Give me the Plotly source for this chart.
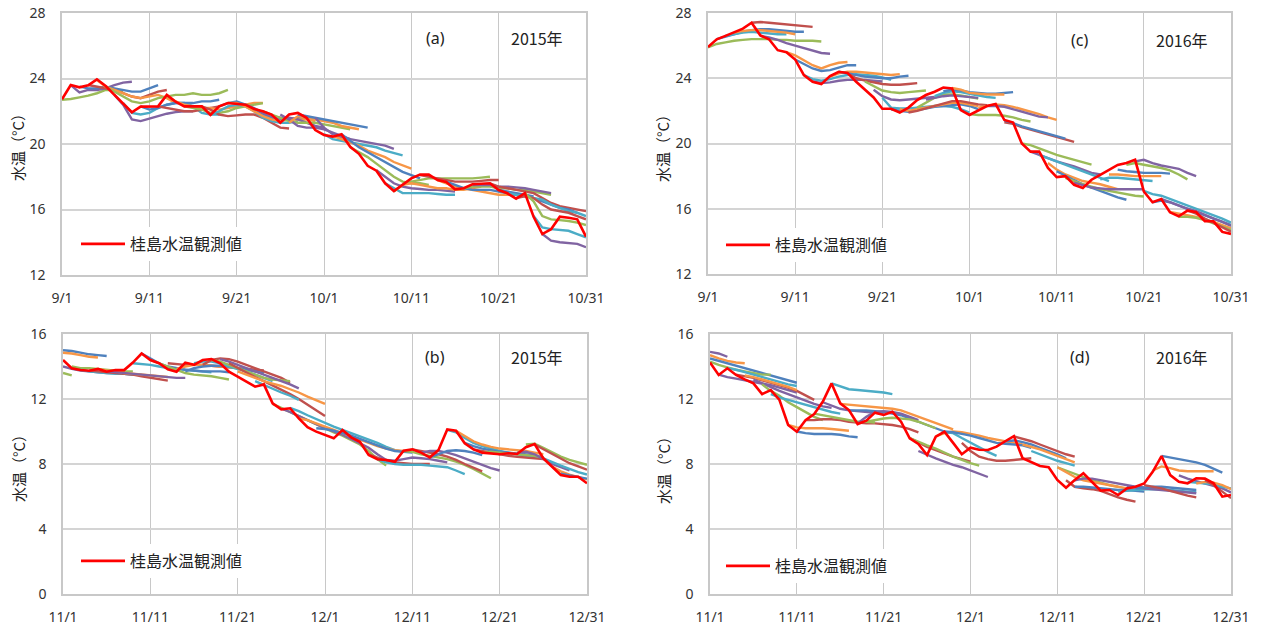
import pandas as pd
import plotly.graph_objects as go

# ---------------- observed water temperature (桂島) ----------------
OBS_2015_SEP_OCT = [22.73, 23.6, 23.46, 23.58, 23.95, 23.54, 23.0, 22.49, 21.94, 22.28,
                    22.3, 22.3, 23.0, 22.58, 22.3, 22.3, 22.3, 21.77, 22.3, 22.5,
                    22.44, 22.4, 22.14, 22.0, 21.8, 21.3, 21.8, 21.9, 21.6, 20.85,
                    20.55, 20.45, 20.6, 19.83, 19.4, 18.67, 18.37, 17.6, 17.13, 17.54,
                    17.9, 18.13, 18.13, 17.8, 17.68, 17.23, 17.3, 17.54, 17.55, 17.6,
                    17.19, 16.99, 16.66, 17.0, 15.56, 14.5, 14.8, 15.56, 15.5, 15.4,
                    14.34]
OBS_2016_SEP_OCT = [25.92, 26.39, 26.6, 26.8, 27.04, 27.4, 26.63, 26.39, 25.72, 25.6,
                    25.15, 24.19, 23.78, 23.64, 24.13, 24.4, 24.33, 23.78, 23.27, 22.82,
                    22.13, 22.13, 21.9, 22.2, 22.66, 22.97, 23.17, 23.43, 23.37, 22.05,
                    21.75, 22.05, 22.3, 22.42, 21.44, 21.28, 20.0, 19.5, 19.5, 18.5,
                    17.94, 18.0, 17.47, 17.27, 17.78, 18.08, 18.39, 18.69, 18.8, 19.0,
                    17.06, 16.4, 16.59, 15.78, 15.54, 15.88, 15.8, 15.23, 15.23, 14.58,
                    14.46]
OBS_2015_NOV_DEC = [14.4, 13.89, 13.78, 13.74, 13.85, 13.68, 13.78, 13.78, 14.24, 14.8,
                    14.4, 14.2, 13.83, 13.68, 14.24, 14.1, 14.4, 14.46, 14.2, 13.68,
                    13.37, 13.07, 12.76, 12.9, 11.73, 11.36, 11.43, 10.81, 10.26, 9.99,
                    9.8, 9.58, 10.09, 9.64, 9.37, 8.55, 8.29, 8.25, 8.14, 8.82,
                    8.9, 8.7, 8.41, 8.86, 10.13, 10.05, 9.27, 8.9, 8.7, 8.66,
                    8.6, 8.66, 8.62, 9.03, 9.23, 8.35, 7.84, 7.32, 7.22, 7.22,
                    6.81]
OBS_2016_NOV_DEC = [14.24, 13.48, 13.89, 13.48, 13.21, 12.96, 12.3, 12.55, 11.94, 10.4,
                    9.99, 10.7, 11.08, 11.84, 12.96, 11.73, 11.32, 10.46, 10.67, 11.16,
                    11.02, 11.22, 10.6, 9.58, 9.23, 8.55, 9.68, 9.99, 9.3, 8.6,
                    9.0, 8.88, 8.86, 9.07, 9.4, 9.72, 8.35, 8.14, 7.88, 7.8,
                    7.02, 6.54, 7.02, 7.43, 6.91, 6.36, 6.4, 6.09, 6.5, 6.6,
                    6.8, 7.53, 8.49, 7.32, 6.91, 6.81, 7.12, 7.1, 6.81, 5.99,
                    6.09]

# ---------------- forecast runs: start day index (0 = first day) and values ----------------
A_SEG_START = [0, 1, 2, 3, 4, 5, 6, 7, 9, 11, 12, 14, 16, 17, 18, 19, 21, 23, 25, 26, 27,
               29, 30, 31, 32, 33, 36, 37, 38, 39, 41, 43, 44, 46, 47, 49, 50, 51, 52, 53, 54, 55]
A_SEG_VALUES = [
    [22.7, 22.75, 22.85, 22.95, 23.1, 23.3, 23.3, 23.2],
    [23.6, 23.15, 23.3, 23.3, 23.4, 23.6, 23.75, 23.8],
    [23.5, 23.4, 23.4, 23.5, 23.4, 23.3, 23.2, 23.2, 23.4, 23.6],
    [23.6, 23.5, 23.4, 23.3, 23.1, 22.9, 22.8, 23.0, 23.2, 23.3],
    [23.9, 23.5, 23.3, 23.1, 22.9, 22.8, 22.9, 23.0, 22.8, 22.5],
    [23.5, 23.2, 22.9, 22.6, 22.5, 22.6, 22.8, 22.9, 23.0, 23.0, 23.1, 23.0, 23.0, 23.1, 23.3],
    [23.0, 22.4, 21.5, 21.4, 21.55, 21.7, 21.85, 21.95, 22.0, 22.0],
    [22.5, 21.9, 21.8, 21.9, 22.2, 22.4, 22.5, 22.5, 22.3, 21.9, 21.8, 21.8],
    [22.3, 22.1, 22.2, 22.4, 22.5, 22.5, 22.5, 22.6, 22.6, 22.7],
    [22.3, 22.2, 22.1, 22.0, 22.0, 22.1, 22.2, 22.3],
    [23.0, 22.6, 22.4, 22.3, 22.2, 22.2, 22.1, 22.2, 22.3, 22.4, 22.5, 22.5],
    [22.3, 22.2, 22.1, 21.9, 21.9, 22.0, 22.2, 22.3, 22.4, 22.5],
    [22.3, 22.1, 21.8, 21.7, 21.75, 21.8, 21.8, 21.6, 21.3, 21.0, 20.95],
    [21.8, 22.0, 22.3, 22.4, 22.3, 22.0, 21.6, 21.4, 21.3, 21.3, 21.4],
    [22.3, 22.5, 22.6, 22.4, 22.1, 21.8, 21.6, 21.5, 21.5, 21.6, 21.6],
    [22.5, 22.5, 22.3, 22.0, 21.7, 21.5, 21.4, 21.5, 21.5, 21.5, 21.4],
    [22.4, 22.2, 21.9, 21.7, 21.6, 21.6, 21.5, 21.3, 21.1, 21.0],
    [22.0, 21.8, 21.6, 21.4, 21.3, 21.3, 21.3, 21.2, 21.1, 21.0, 20.9],
    [21.8, 21.5, 21.1, 21.0, 21.0, 20.9, 20.7, 20.5, 20.3],
    [21.3, 21.7, 21.6, 21.5, 21.4, 21.3, 21.1, 21.0, 20.9],
    [21.8, 21.7, 21.6, 21.5, 21.4, 21.3, 21.2, 21.1, 21.0],
    [21.6, 21.0, 20.6, 20.4, 20.3, 20.2, 20.1, 20.0, 19.9, 19.7],
    [20.6, 20.3, 20.2, 20.1, 20.0, 19.9, 19.8, 19.6, 19.45, 19.3],
    [20.5, 20.3, 20.1, 19.9, 19.6, 19.4, 19.2, 18.9, 18.7, 18.5],
    [20.6, 20.2, 19.8, 19.5, 19.2, 18.9, 18.6, 18.3, 18.1, 17.9],
    [19.8, 19.5, 19.2, 18.8, 18.4, 18.0, 17.7, 17.6, 17.6, 17.5],
    [18.4, 18.0, 17.6, 17.4, 17.3, 17.25, 17.2, 17.2, 17.15, 17.1],
    [17.6, 17.3, 17.0, 17.0, 17.0, 17.0, 16.95, 16.9, 16.9],
    [17.1, 17.5, 17.7, 17.8, 17.9, 17.9, 17.9, 17.9, 17.9, 17.9, 17.95, 18.0],
    [17.5, 17.6, 17.5, 17.4, 17.3, 17.3, 17.2, 17.2, 17.3, 17.4],
    [18.1, 18.0, 17.9, 17.8, 17.7, 17.7, 17.7, 17.75, 17.8, 17.8],
    [17.8, 17.6, 17.4, 17.3, 17.2, 17.1, 17.0, 16.9, 16.9, 16.9],
    [17.7, 17.5, 17.3, 17.2, 17.2, 17.2, 17.1, 17.0, 16.9, 16.9, 16.8],
    [17.3, 17.4, 17.4, 17.4, 17.3, 17.3, 17.2, 17.2, 17.1, 17.0, 16.9],
    [17.5, 17.5, 17.5, 17.4, 17.4, 17.35, 17.3, 17.2, 17.1, 17.0],
    [17.6, 17.4, 17.3, 17.2, 17.1, 17.0, 16.7, 16.4, 16.2, 16.1, 16.0, 15.9],
    [17.2, 17.1, 17.0, 16.9, 16.7, 16.5, 16.3, 16.1, 16.0, 15.8],
    [17.0, 16.9, 16.8, 16.7, 16.6, 16.3, 16.1, 15.9, 15.8, 15.6],
    [16.7, 16.8, 16.7, 16.3, 16.0, 15.9, 15.8, 15.6, 15.4],
    [17.0, 16.5, 15.6, 15.4, 15.35, 15.3, 15.2, 15.05],
    [15.6, 14.9, 14.8, 14.75, 14.7, 14.5, 14.3],
    [14.5, 14.1, 14.0, 13.95, 13.9, 13.7],
]
A_SEG_COLORS = "GPBROGPABROGRABOPGPOBPAOBGPAGOROBGPRBARGAP"

C_SEG_START = [0, 1, 2, 3, 5, 6, 9, 10, 11, 12, 14, 15, 16, 18, 19, 20, 21, 22, 23, 24, 25, 26,
               27, 28, 30, 31, 32, 34, 34, 36, 37, 38, 39, 40, 41, 42, 45, 46, 47, 48, 49,
               50, 51, 52, 53, 54, 55]
C_SEG_VALUES = [
    [25.9, 26.1, 26.2, 26.3, 26.35, 26.4, 26.4, 26.4, 26.35, 26.35, 26.3, 26.3, 26.3, 26.25],
    [26.4, 26.55, 26.7, 26.85, 26.95, 27.0, 27.0, 26.95, 26.9, 26.85, 26.85],
    [26.6, 26.7, 26.8, 26.85, 26.8, 26.75, 26.7, 26.7],
    [26.8, 26.9, 26.95, 26.95, 26.9, 26.85, 26.8, 26.7],
    [27.4, 27.45, 27.4, 27.35, 27.3, 27.25, 27.2, 27.15],
    [26.6, 26.5, 26.35, 26.15, 26.0, 25.85, 25.7, 25.55, 25.5],
    [25.6, 25.4, 25.1, 24.8, 24.6, 24.8, 24.95, 25.0],
    [25.15, 24.85, 24.6, 24.45, 24.5, 24.65, 24.8, 24.8],
    [24.2, 23.95, 23.85, 23.95, 24.1, 24.2, 24.25, 24.2, 24.15, 24.05, 23.9],
    [23.8, 23.7, 23.75, 23.85, 23.9, 23.9, 23.9, 23.85, 23.8],
    [24.1, 24.3, 24.4, 24.4, 24.35, 24.3, 24.25, 24.2, 24.25],
    [24.4, 24.3, 24.2, 24.1, 24.05, 24.0, 24.0, 24.1, 24.15],
    [24.3, 24.0, 23.85, 23.75, 23.65, 23.6, 23.6, 23.65, 23.7],
    [23.8, 23.5, 23.25, 23.15, 23.1, 23.15, 23.2, 23.25],
    [23.3, 22.9, 22.7, 22.65, 22.7, 22.75, 22.8, 22.85],
    [22.8, 22.2, 22.15, 22.15, 22.2, 22.25, 22.3, 22.3, 22.25, 22.1, 21.9],
    [22.1, 22.0, 21.95, 22.05, 22.15, 22.25, 22.3, 22.35, 22.4, 22.3, 22.1],
    [22.1, 22.0, 22.1, 22.2, 22.3, 22.4, 22.5, 22.5, 22.4, 22.3],
    [21.9, 22.0, 22.15, 22.3, 22.45, 22.6, 22.6, 22.5, 22.4, 22.35],
    [22.2, 22.5, 22.8, 23.0, 23.0, 22.95, 22.85, 22.75],
    [22.7, 22.8, 22.9, 22.95, 22.9, 22.85, 22.8],
    [22.9, 23.1, 23.2, 23.15, 23.05, 22.95, 22.85, 22.8],
    [23.2, 23.3, 23.25, 23.15, 23.1, 23.05, 23.05, 23.1, 23.15],
    [23.4, 23.3, 23.1, 23.05, 23.0, 23.0, 23.0],
    [21.8, 21.75, 21.75, 21.75, 21.7, 21.6, 21.45, 21.35],
    [22.2, 22.3, 22.4, 22.35, 22.25, 22.1, 21.95, 21.8, 21.6, 21.45],
    [22.3, 22.3, 22.25, 22.1, 21.95, 21.8, 21.65, 21.6],
    [21.3, 21.2, 21.0, 20.85, 20.7, 20.55, 20.4, 20.25, 20.1],
    [21.4, 21.25, 21.05, 20.9, 20.75, 20.6, 20.45, 20.3],
    [20.0, 19.9, 19.7, 19.5, 19.3, 19.15, 19.0, 18.85, 18.7],
    [19.5, 19.3, 19.1, 18.9, 18.75, 18.6, 18.4, 18.2, 18.1],
    [19.3, 19.1, 18.9, 18.7, 18.5, 18.3, 18.1, 17.9, 17.7],
    [18.8, 18.4, 18.1, 17.9, 17.7, 17.6, 17.5, 17.35, 17.2],
    [18.3, 18.0, 17.75, 17.5, 17.3, 17.1, 16.9, 16.7, 16.55],
    [17.9, 17.7, 17.5, 17.35, 17.2, 17.1, 17.0, 16.9, 16.8, 16.75],
    [17.6, 17.45, 17.3, 17.25, 17.2, 17.2, 17.2, 17.2, 17.2],
    [17.8, 17.9, 17.9, 17.85, 17.8, 17.75, 17.7],
    [18.1, 18.1, 18.05, 18.0, 18.0, 18.0, 18.0],
    [18.4, 18.3, 18.25, 18.2, 18.2, 18.2, 18.15],
    [18.7, 18.8, 18.7, 18.6, 18.5, 18.35, 18.1, 17.8],
    [18.9, 19.0, 18.8, 18.65, 18.55, 18.45, 18.2, 18.0],
    [17.1, 16.9, 16.8, 16.6, 16.4, 16.2, 16.0, 15.8, 15.6, 15.4, 15.15],
    [16.4, 16.5, 16.4, 16.2, 16.0, 15.8, 15.6, 15.4, 15.2, 15.0],
    [16.6, 16.4, 16.2, 16.0, 15.85, 15.6, 15.4, 15.2, 14.95],
    [15.8, 15.7, 15.6, 15.5, 15.35, 15.2, 15.0, 14.8],
    [15.5, 15.5, 15.45, 15.3, 15.1, 14.9, 14.7],
    [15.9, 15.7, 15.4, 15.15, 14.9, 14.6],
]
C_SEG_COLORS = "GBAORPOBAPOBRGPABORGPABOGOPRBGPAOBGPAOBGPABPOGR"

B_SEG_START = [0, 0, 0, 0, 1, 2, 3, 4, 5, 8, 9, 10, 12, 13, 14, 15, 16, 17, 18, 19, 20, 22,
               24, 25, 26, 27, 29, 35, 36, 37, 39, 40, 41, 42, 44, 45, 46, 47, 48,
               52, 53, 54, 55, 56, 57]
B_SEG_VALUES = [
    [15.0, 14.95, 14.85, 14.75, 14.7, 14.65],
    [14.85, 14.8, 14.7, 14.6, 14.55],
    [13.6, 13.45],
    [14.0, 13.85, 13.75, 13.7, 13.65, 13.6, 13.6, 13.55, 13.5],
    [14.0, 13.9, 13.9, 13.85, 13.8, 13.75, 13.7, 13.7],
    [13.8, 13.7, 13.65, 13.6, 13.55, 13.55, 13.5, 13.5],
    [13.75, 13.7, 13.65, 13.6, 13.55, 13.5, 13.4, 13.3, 13.2, 13.13],
    [13.85, 13.75, 13.7, 13.6, 13.55, 13.5, 13.45, 13.4, 13.35],
    [13.7, 13.65, 13.6, 13.55, 13.5, 13.45, 13.4, 13.35, 13.3, 13.3],
    [14.2, 14.15, 14.1, 14.0, 13.9, 13.85, 13.8, 13.75, 13.7, 13.65],
    [14.8, 14.5, 14.2, 14.0, 13.9, 13.8, 13.75, 13.7, 13.7, 13.7, 13.65],
    [14.4, 14.2, 14.0, 13.8, 13.6, 13.5, 13.45, 13.4, 13.3, 13.2],
    [14.2, 14.15, 14.1, 14.1, 14.1, 14.05, 14.0, 13.95, 13.9, 13.85, 13.8, 13.75],
    [13.85, 14.0, 14.1, 14.1, 14.05, 14.0, 13.95, 13.9, 13.8, 13.7],
    [13.7, 13.9, 14.0, 14.05, 14.05, 14.0, 13.9, 13.8, 13.7, 13.6],
    [14.2, 14.3, 14.3, 14.2, 14.0, 13.85, 13.7, 13.5, 13.3, 13.1],
    [14.1, 14.4, 14.5, 14.45, 14.3, 14.1, 13.9, 13.7, 13.5, 13.3, 13.0],
    [14.4, 14.3, 14.1, 13.9, 13.7, 13.5, 13.3, 13.2, 13.15, 13.1],
    [14.45, 14.3, 14.1, 13.9, 13.7, 13.5, 13.3, 13.1, 12.9, 12.65],
    [14.2, 13.9, 13.6, 13.35, 13.1, 12.85, 12.6, 12.3, 12.0, 11.65, 11.3, 10.95],
    [13.7, 13.5, 13.3, 13.1, 12.95, 12.8, 12.6, 12.4, 12.15, 11.9, 11.7],
    [13.1, 12.85, 12.6, 12.4, 12.2, 11.95],
    [11.7, 11.45, 11.15, 10.9, 10.65, 10.4, 10.15, 9.95, 9.75, 9.5, 9.2, 8.8, 8.3, 7.9],
    [11.4, 11.2, 10.95, 10.7, 10.45, 10.2, 10.0, 9.8, 9.55, 9.3, 9.0, 8.6, 8.25, 8.0],
    [11.45, 11.25, 11.0, 10.75, 10.5, 10.3, 10.1, 9.9, 9.7, 9.5, 9.3, 9.05, 8.85, 8.75],
    [10.8, 10.7, 10.5, 10.3, 10.1, 9.9, 9.7, 9.5, 9.3, 9.1, 8.95, 8.85, 8.8],
    [10.2, 10.15, 10.05, 9.9, 9.75, 9.55, 9.35, 9.15, 8.95, 8.8, 8.75, 8.7],
    [8.6, 8.4, 8.2, 8.1, 8.05, 8.0, 8.0, 8.0],
    [8.3, 8.1, 8.0, 7.95, 7.95, 7.95, 7.9, 7.85, 7.8, 7.6, 7.38],
    [8.25, 8.2, 8.3, 8.4, 8.35, 8.3, 8.2, 8.1],
    [8.8, 8.75, 8.6, 8.5, 8.4, 8.3, 8.15, 7.95, 7.7, 7.4, 7.12],
    [8.9, 8.8, 8.7, 8.6, 8.45, 8.25, 8.0, 7.75, 7.55],
    [8.7, 8.8, 8.8, 8.7, 8.55, 8.35, 8.15, 7.95, 7.75, 7.6],
    [8.4, 8.6, 8.8, 8.85, 8.8, 8.7, 8.55],
    [10.1, 9.95, 9.6, 9.3, 9.1, 8.95, 8.8, 8.7, 8.6, 8.5, 8.45, 8.4],
    [10.05, 9.7, 9.4, 9.2, 9.05, 8.95, 8.9, 8.85, 8.8, 8.7, 8.6],
    [9.3, 9.1, 8.95, 8.85, 8.75, 8.7, 8.65, 8.6, 8.55, 8.4],
    [8.9, 8.8, 8.7, 8.6, 8.5, 8.45, 8.4, 8.35, 8.3],
    [8.7, 8.75, 8.7, 8.65, 8.6, 8.55, 8.5, 8.4],
    [8.7, 8.75, 8.6, 8.3, 8.0, 7.8, 7.6],
    [9.2, 9.25, 9.0, 8.7, 8.45, 8.25, 8.1, 7.95],
    [9.2, 8.9, 8.6, 8.3, 8.05, 7.85, 7.65],
    [8.35, 8.1, 7.9, 7.7, 7.5, 7.35],
    [7.85, 7.55, 7.35, 7.2, 7.05],
    [7.4, 7.3, 7.2, 7.1],
]
B_SEG_COLORS = "BOGPGAROPABGROBARGPROAGPAOBRAPGRPBAOBRGPGRAOB"

D_SEG_START = [0, 0, 0, 0, 1, 2, 3, 4, 5, 6, 7, 9, 10, 11, 12, 13, 14, 15, 16, 17, 18,
               23, 23, 24, 26, 27, 27, 29, 34, 35, 36, 37, 40, 40, 41, 42, 42, 47, 48, 49,
               50, 51, 52, 54, 55, 56, 57]
D_SEG_VALUES = [
    [14.9, 14.8, 14.6],
    [14.7, 14.5, 14.35, 14.25, 14.2],
    [14.5, 14.35, 14.2, 14.05, 13.9, 13.75, 13.6, 13.45, 13.3, 13.15, 13.0],
    [14.3, 14.1, 13.95, 13.8, 13.7, 13.6, 13.5, 13.5],
    [13.5, 13.35, 13.25, 13.15, 13.05, 12.95, 12.85, 12.7, 12.55, 12.4],
    [13.9, 13.8, 13.65, 13.5, 13.35, 13.2, 13.05, 12.9, 12.8],
    [13.5, 13.4, 13.3, 13.15, 13.0, 12.85, 12.7, 12.5, 12.25, 11.95],
    [13.45, 13.35, 13.2, 13.05, 12.9, 12.75, 12.55],
    [13.2, 12.95, 12.7, 12.5, 12.3, 12.1, 11.9, 11.7, 11.55, 11.45],
    [12.9, 12.5, 12.2, 11.8, 11.5, 11.2, 10.9, 10.7],
    [12.3, 12.1, 11.95, 11.8, 11.65, 11.5, 11.35, 11.2, 11.1],
    [10.4, 10.25, 10.2, 10.2, 10.2, 10.15, 10.1, 10.05],
    [10.0, 9.9, 9.85, 9.85, 9.85, 9.8, 9.7, 9.65],
    [10.7, 10.7, 10.75, 10.75, 10.7, 10.6, 10.55, 10.5, 10.5, 10.45, 10.4, 10.3, 10.15, 9.95],
    [11.1, 11.0, 10.9, 10.8, 10.7, 10.6, 10.6, 10.55],
    [11.8, 11.6, 11.4, 11.3, 11.25, 11.2, 11.15, 11.1],
    [12.96, 12.8, 12.6, 12.55, 12.5, 12.45, 12.4, 12.3],
    [11.7, 11.65, 11.6, 11.55, 11.5, 11.45, 11.4, 11.3, 11.1, 10.9, 10.7, 10.5, 10.3, 10.13],
    [11.3, 11.3, 11.3, 11.25, 11.2, 11.1, 11.0, 10.8, 10.6, 10.4, 10.2, 10.0],
    [10.5, 10.9, 11.2, 11.25, 11.2, 11.1, 10.9, 10.7],
    [10.6, 10.7, 10.8, 10.85, 10.8, 10.75, 10.6, 10.4, 10.2],
    [9.6, 9.3, 9.05, 8.85, 8.65, 8.45, 8.3, 8.15],
    [9.6, 9.35, 9.15, 8.95, 8.7, 8.45, 8.25, 8.05, 7.9],
    [8.8, 8.55, 8.35, 8.15, 7.95, 7.8, 7.6, 7.4, 7.2],
    [9.7, 9.9, 10.0, 9.95, 9.85, 9.75, 9.6, 9.5, 9.4, 9.3, 9.2],
    [9.95, 9.9, 9.6, 9.3, 9.0, 8.75, 8.5],
    [10.0, 9.95, 9.85, 9.75, 9.6, 9.45, 9.3, 9.25, 9.2, 9.15, 9.0],
    [9.3, 8.8, 8.45, 8.3, 8.2, 8.2, 8.25, 8.3, 8.35],
    [9.4, 9.45, 9.35, 9.2, 9.0, 8.8, 8.6, 8.35],
    [9.7, 9.55, 9.4, 9.2, 9.0, 8.8, 8.6, 8.45],
    [9.2, 9.05, 8.9, 8.7, 8.5, 8.3, 8.1],
    [8.8, 8.6, 8.4, 8.2, 8.05, 7.9],
    [7.8, 7.6, 7.4, 7.2, 7.0, 6.85, 6.7, 6.6],
    [7.8, 7.5, 7.2, 7.0, 6.9, 6.8, 6.7, 6.6, 6.5, 6.4],
    [7.0, 6.6, 6.5, 6.45, 6.35, 6.15, 5.95, 5.8, 5.68],
    [6.6, 6.6, 6.55, 6.5, 6.45, 6.4, 6.4, 6.35, 6.3],
    [7.0, 7.1, 7.1, 7.0, 6.9, 6.8, 6.7, 6.6, 6.55],
    [6.3, 6.35, 6.4, 6.45, 6.45, 6.45, 6.4, 6.35, 6.3, 6.3],
    [6.6, 6.55, 6.5, 6.45, 6.4, 6.35, 6.3, 6.25, 6.2],
    [6.5, 6.55, 6.6, 6.6, 6.55, 6.5, 6.45, 6.4],
    [6.7, 6.6, 6.5, 6.35, 6.2, 6.05, 5.95],
    [7.6, 7.85, 7.75, 7.6, 7.55, 7.55, 7.55, 7.55],
    [8.5, 8.4, 8.3, 8.2, 8.1, 7.95, 7.7, 7.47],
    [7.3, 7.1, 6.95, 6.8, 6.65, 6.5, 6.25],
    [6.9, 6.85, 6.8, 6.75, 6.6, 6.5],
    [6.8, 6.9, 6.85, 6.7, 6.45],
    [7.0, 6.7, 6.3, 5.9],
]
D_SEG_COLORS = "POBGPAROPGAOBRGPAOBPGRGPOABRBROAGORBPAPBROBPAOR"

TICKS_SEP_OCT = ["9/1", "9/11", "9/21", "10/1", "10/11", "10/21", "10/31"]
TICKS_NOV_DEC = ["11/1", "11/11", "11/21", "12/1", "12/11", "12/21", "12/31"]
Y_TICKS_HIGH = [12, 16, 20, 24, 28]
Y_TICKS_LOW = [0, 4, 8, 12, 16]
LEGEND_NAME = "桂島水温観測値"
Y_TITLE = "水温（°C）"

# ---------------- styling ----------------
PALETTE = {"B": "#4F81BD", "R": "#C0504D", "G": "#9BBB59",
           "P": "#8064A2", "A": "#4BACC6", "O": "#F79646"}
JP = "Noto Sans CJK JP"
NUM = "Noto Sans, Noto Sans CJK JP"
W, H = 1264, 630

PANELS = [
    dict(ax="", start="2015-09-01", obs=OBS_2015_SEP_OCT, st=A_SEG_START, vals=A_SEG_VALUES,
         cols=A_SEG_COLORS, ticks=TICKS_SEP_OCT, yt=Y_TICKS_HIGH, tag="(a)", year="2015年",
         box=(62, 586, 13, 275), leg="legend", tagpos=(435, 537, 38), ytitle=(18, 144),
         legpos=(76, 244)),
    dict(ax="2", start="2016-09-01", obs=OBS_2016_SEP_OCT, st=C_SEG_START, vals=C_SEG_VALUES,
         cols=C_SEG_COLORS, ticks=TICKS_SEP_OCT, yt=Y_TICKS_HIGH, tag="(c)", year="2016年",
         box=(708, 1231, 13, 274), leg="legend2", tagpos=(1079, 1182, 40), ytitle=(663, 145),
         legpos=(721, 245)),
    dict(ax="3", start="2015-11-01", obs=OBS_2015_NOV_DEC, st=B_SEG_START, vals=B_SEG_VALUES,
         cols=B_SEG_COLORS, ticks=TICKS_NOV_DEC, yt=Y_TICKS_LOW, tag="(b)", year="2015年",
         box=(63, 587, 334, 594), leg="legend3", tagpos=(435, 537, 357), ytitle=(18, 465),
         legpos=(76, 561)),
    dict(ax="4", start="2016-11-01", obs=OBS_2016_NOV_DEC, st=D_SEG_START, vals=D_SEG_VALUES,
         cols=D_SEG_COLORS, ticks=TICKS_NOV_DEC, yt=Y_TICKS_LOW, tag="(d)", year="2016年",
         box=(710, 1231, 334, 594), leg="legend4", tagpos=(1080, 1182, 357), ytitle=(663, 467),
         legpos=(721, 566)),
]

fig = go.Figure()
layout = dict(width=W, height=H, margin=dict(l=0, r=0, t=0, b=0, autoexpand=False),
              paper_bgcolor="white", plot_bgcolor="white", showlegend=True)
annotations = []

for p in PANELS:
    start = pd.Timestamp(p["start"])
    xa = "x" + p["ax"]
    ya = "y" + p["ax"]
    for s, vals, c in zip(p["st"], p["vals"], p["cols"]):
        dates = pd.date_range(start + pd.Timedelta(days=s), periods=len(vals), freq="D")
        fig.add_trace(go.Scatter(x=dates, y=vals, mode="lines", xaxis=xa, yaxis=ya,
                                 line=dict(color=PALETTE[c], width=2.4),
                                 showlegend=False, hoverinfo="skip"))
    obs_dates = pd.date_range(start, periods=len(p["obs"]), freq="D")
    fig.add_trace(go.Scatter(x=obs_dates, y=p["obs"], mode="lines", xaxis=xa, yaxis=ya,
                             name=LEGEND_NAME, legend=p["leg"],
                             line=dict(color="#FF0000", width=2.6)))

    x0, x1, y0, y1 = p["box"]
    tickdates = [start + pd.Timedelta(days=10 * i) for i in range(len(p["ticks"]))]
    layout["xaxis" + p["ax"]] = dict(
        domain=[x0 / W, x1 / W], anchor=ya, type="date", automargin=False,
        range=[tickdates[0], tickdates[-1]], tickvals=tickdates, ticktext=p["ticks"],
        showgrid=True, gridcolor="#c8c8c8", gridwidth=1.3,
        showline=True, mirror=True, linecolor="#c8c8c8", linewidth=1.5,
        ticks="outside", ticklen=9, tickcolor="rgba(0,0,0,0)",
        tickfont=dict(family=NUM, size=14, color="#333333"), zeroline=False)
    layout["yaxis" + p["ax"]] = dict(
        domain=[1 - y1 / H, 1 - y0 / H], anchor=xa, automargin=False,
        range=[p["yt"][0], p["yt"][-1]], tickvals=p["yt"],
        showgrid=True, gridcolor="#d4d4d4", gridwidth=2,
        showline=True, mirror=True, linecolor="#c8c8c8", linewidth=1.5,
        ticks="outside", ticklen=12, tickcolor="rgba(0,0,0,0)",
        tickfont=dict(family=NUM, size=14, color="#333333"), zeroline=False)
    lx, ly = p["legpos"]
    layout[p["leg"]] = dict(x=lx / W, y=1 - ly / H, xanchor="left", yanchor="middle",
                            bgcolor="white", borderwidth=0, itemwidth=44,
                            font=dict(family=JP, size=16, color="#222222"))
    tx, yx, ty = p["tagpos"]
    annotations.append(dict(x=tx / W, y=1 - ty / H, xref="paper", yref="paper",
                            text=p["tag"], showarrow=False, xanchor="center", yanchor="middle",
                            font=dict(family=NUM, size=16, color="#222222")))
    annotations.append(dict(x=yx / W, y=1 - ty / H, xref="paper", yref="paper",
                            text=p["year"], showarrow=False, xanchor="center", yanchor="middle",
                            font=dict(family=JP, size=16, color="#222222")))
    atx, aty = p["ytitle"]
    annotations.append(dict(x=atx / W, y=1 - aty / H, xref="paper", yref="paper",
                            text=Y_TITLE, textangle=-90, showarrow=False,
                            xanchor="center", yanchor="middle",
                            font=dict(family=JP, size=15, color="#222222")))

layout["annotations"] = annotations
fig.update_layout(**layout)
fig.write_html("out.html")
